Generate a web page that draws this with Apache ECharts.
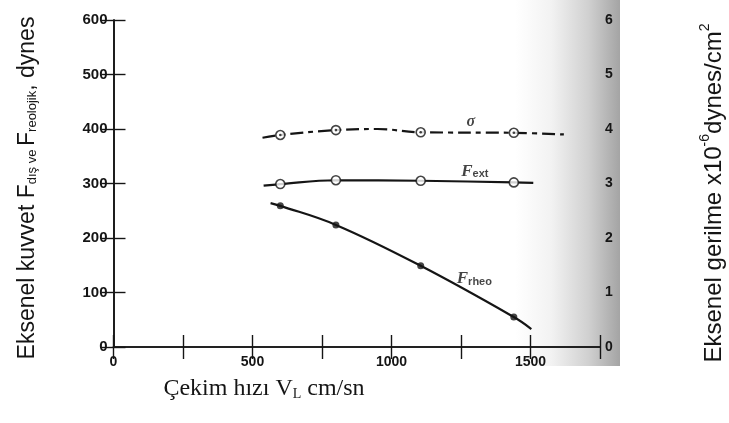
<!DOCTYPE html>
<html>
<head>
<meta charset="utf-8">
<script src="https://cdn.jsdelivr.net/npm/echarts@6/dist/echarts.min.js"></script>
<style>
html,body{margin:0;padding:0;background:#fff;}
#chart{width:729px;height:423px;}
</style>
</head>
<body>
<div id="chart"></div>
<script>
// ---- data ----
const xTickValues = [0, 500, 1000, 1500];
const leftTicks = [0, 100, 200, 300, 400, 500, 600];
const rightTicks = [0, 1, 2, 3, 4, 5, 6];

// sigma (right axis, x10^-6 dynes/cm^2)
const sigmaCurveX = [536, 600, 800, 950, 1105, 1440, 1620];
const sigmaCurveY = [3.84, 3.89, 3.98, 4.0, 3.94, 3.93, 3.9];
const sigmaMarkX = [600, 800, 1105, 1440];
const sigmaMarkY = [3.89, 3.98, 3.94, 3.93];

// F_ext (left axis, dynes)
const fextCurveX = [540, 600, 800, 1105, 1440, 1510];
const fextCurveY = [296, 299, 306, 305, 302, 301];
const fextMarkX = [600, 800, 1105, 1440];
const fextMarkY = [299, 306, 305, 302];

// F_rheo (left axis, dynes)
const frheoCurveX = [565, 600, 800, 1105, 1440, 1503];
const frheoCurveY = [264, 259, 224, 149, 55, 33];
const frheoMarkX = [600, 800, 1105, 1440];
const frheoMarkY = [259, 224, 149, 55];

// curve labels (data positions)
const sigmaLabelPos = [1285, 4.13];
const fextLabelPos = [1300, 325];
const frheoLabelPos = [1298, 128];

const zip = (xs, ys) => xs.map((x, i) => [x, ys[i]]);
const INK = '#151515';

const chart = echarts.init(document.getElementById('chart'));

const tickFont = {color: INK, fontFamily: 'Liberation Sans', fontWeight: 'bold', fontSize: 14};

chart.setOption({
  animation: false,
  backgroundColor: '#fff',
  grid: {left: 113.5, right: 129, top: 20, bottom: 76},
  graphic: [
    {
      type: 'rect', silent: true, z: -10,
      shape: {x: 515, y: 0, width: 105, height: 366},
      style: {
        fill: new echarts.graphic.LinearGradient(0, 0, 1, 0, [
          {offset: 0, color: '#ffffff'},
          {offset: 0.35, color: '#f2f2f2'},
          {offset: 0.7, color: '#d0d0d0'},
          {offset: 1, color: '#a4a4a4'}
        ])
      }
    },
    {
      type: 'text', x: 26, y: 188, rotation: Math.PI / 2,
      style: {
        text: '{b|Eksenel kuvvet F}{s|dış ve }{b|F}{s|reolojik}{b|, dynes}',
        fill: INK, align: 'center', verticalAlign: 'middle',
        rich: {
          b: {fontFamily: 'Liberation Sans', fontSize: 23, fill: INK, verticalAlign: 'bottom', lineHeight: 26},
          s: {fontFamily: 'Liberation Sans', fontSize: 13, fill: INK, verticalAlign: 'bottom', lineHeight: 26}
        }
      }
    },
    {
      type: 'text', x: 712, y: 193, rotation: Math.PI / 2,
      style: {
        text: '{b|Eksenel gerilme x10}{p|-6}{b|dynes/cm}{p|2}',
        fill: INK, align: 'center', verticalAlign: 'middle',
        rich: {
          b: {fontFamily: 'Liberation Sans', fontSize: 24, fill: INK, verticalAlign: 'bottom', lineHeight: 28},
          p: {fontFamily: 'Liberation Sans', fontSize: 14, fill: INK, verticalAlign: 'top', lineHeight: 28}
        }
      }
    },
    {
      type: 'text', x: 264, y: 387,
      style: {
        text: '{b|Çekim hızı V}{s|L}{b| cm/sn}',
        fill: INK, align: 'center', verticalAlign: 'middle',
        rich: {
          b: {fontFamily: 'Liberation Serif', fontSize: 24, fill: INK, verticalAlign: 'bottom', lineHeight: 28},
          s: {fontFamily: 'Liberation Serif', fontSize: 14, fill: INK, verticalAlign: 'bottom', lineHeight: 24}
        }
      }
    }
  ],
  xAxis: [
    {
      type: 'value', min: 0, max: 1750, interval: 250, position: 'bottom',
      axisLine: {lineStyle: {color: INK, width: 1.6}},
      axisTick: {inside: true, length: 12, lineStyle: {color: INK, width: 1.4}},
      splitLine: {show: false},
      axisLabel: Object.assign({
        margin: 8,
        formatter: v => (xTickValues.indexOf(v) >= 0 ? String(v) : '')
      }, tickFont)
    },
    {
      type: 'value', min: 0, max: 1750, interval: 250, position: 'top',
      axisLine: {lineStyle: {color: INK, width: 1.6}},
      axisTick: {inside: true, length: 12, lineStyle: {color: INK, width: 1.4}},
      splitLine: {show: false},
      axisLabel: {show: false}
    }
  ],
  yAxis: [
    {
      type: 'value', min: leftTicks[0], max: leftTicks[leftTicks.length - 1], interval: 100, position: 'left',
      axisLine: {show: true, lineStyle: {color: INK, width: 1.6}},
      axisTick: {show: true, inside: true, length: 12, lineStyle: {color: INK, width: 1.4}},
      splitLine: {show: false},
      axisLabel: Object.assign({margin: 6}, tickFont, {fontSize: 15})
    },
    {
      type: 'value', min: rightTicks[0], max: rightTicks[rightTicks.length - 1], interval: 1, position: 'right',
      axisLine: {show: true, lineStyle: {color: INK, width: 1.6}},
      axisTick: {show: true, inside: true, length: 12, lineStyle: {color: INK, width: 1.4}},
      splitLine: {show: false},
      axisLabel: Object.assign({margin: 5}, tickFont, {fontSize: 14})
    }
  ],
  series: [
    {
      type: 'line', yAxisIndex: 1, smooth: 0.4, showSymbol: false, symbol: 'none',
      data: zip(sigmaCurveX, sigmaCurveY),
      lineStyle: {color: INK, width: 2.2, type: [13, 5, 5, 5]}
    },
    {
      type: 'scatter', yAxisIndex: 1, symbol: 'circle', symbolSize: 9,
      data: zip(sigmaMarkX, sigmaMarkY),
      itemStyle: {color: '#fff', borderColor: INK, borderWidth: 1.6}, z: 5
    },
    {
      type: 'scatter', yAxisIndex: 1, symbol: 'circle', symbolSize: 2.6,
      data: zip(sigmaMarkX, sigmaMarkY),
      itemStyle: {color: INK}, z: 6
    },
    {
      type: 'line', smooth: 0.4, showSymbol: false, symbol: 'none',
      data: zip(fextCurveX, fextCurveY),
      lineStyle: {color: INK, width: 2.2}
    },
    {
      type: 'scatter', symbol: 'circle', symbolSize: 9,
      data: zip(fextMarkX, fextMarkY),
      itemStyle: {color: '#fff', borderColor: INK, borderWidth: 1.6}, z: 5
    },
    {
      type: 'line', smooth: 0.4, showSymbol: false, symbol: 'none',
      data: zip(frheoCurveX, frheoCurveY),
      lineStyle: {color: INK, width: 2.2}
    },
    {
      type: 'scatter', symbol: 'circle', symbolSize: 7,
      data: zip(frheoMarkX, frheoMarkY),
      itemStyle: {color: INK}, z: 5
    },
    // curve labels
    {
      type: 'scatter', yAxisIndex: 1, symbolSize: 0, silent: true,
      data: [sigmaLabelPos],
      label: {show: true, position: 'inside', formatter: 'σ',
        fontFamily: 'Liberation Serif', fontStyle: 'italic', fontWeight: 'bold', fontSize: 16, color: INK}
    },
    {
      type: 'scatter', symbolSize: 0, silent: true,
      data: [fextLabelPos],
      label: {show: true, position: 'inside', formatter: '{f|F}{s|ext}',
        rich: {
          f: {fontFamily: 'Liberation Serif', fontStyle: 'italic', fontWeight: 'bold', fontSize: 17, color: INK, verticalAlign: 'bottom', lineHeight: 20},
          s: {fontFamily: 'Liberation Sans', fontWeight: 'bold', fontSize: 11, color: INK, verticalAlign: 'bottom', lineHeight: 16}
        }}
    },
    {
      type: 'scatter', symbolSize: 0, silent: true,
      data: [frheoLabelPos],
      label: {show: true, position: 'inside', formatter: '{f|F}{s|rheo}',
        rich: {
          f: {fontFamily: 'Liberation Serif', fontStyle: 'italic', fontWeight: 'bold', fontSize: 17, color: INK, verticalAlign: 'bottom', lineHeight: 20},
          s: {fontFamily: 'Liberation Sans', fontWeight: 'bold', fontSize: 11, color: INK, verticalAlign: 'bottom', lineHeight: 14}
        }}
    }
  ]
});
</script>
</body>
</html>
